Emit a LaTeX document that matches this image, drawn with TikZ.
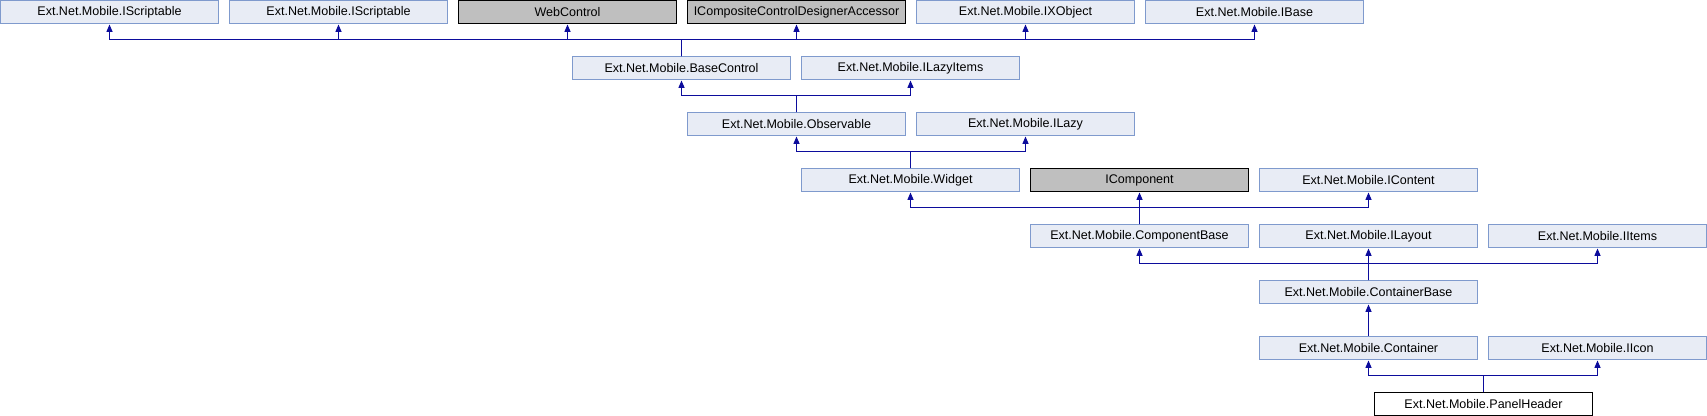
\documentclass[tikz,border=0pt]{standalone}
\usepackage{fontspec}
\setmainfont{Liberation Sans}
\usetikzlibrary{arrows.meta}
\definecolor{boxfill}{HTML}{E8ECF5}
\definecolor{boxline}{HTML}{7F9ACD}
\definecolor{extfill}{HTML}{BFBFBF}
\definecolor{edgecol}{HTML}{0C0C9C}
\tikzset{
  cls/.style={draw=boxline, fill=boxfill, line width=0.75pt, minimum width=163.5pt, minimum height=17.25pt, inner sep=0pt, anchor=north west, font=\fontsize{9.4pt}{11pt}\selectfont},
  extcls/.style={cls, draw=black, fill=extfill},
  selcls/.style={cls, draw=black, fill=white},
  inh/.style={draw=edgecol, line width=0.75pt, -{Triangle[length=5.5pt,width=4.5pt]}}
}
\begin{document}
\begin{tikzpicture}[x=0.75pt, y=-0.75pt]
\useasboundingbox (0,0) rectangle (1707,416);
% row 1
\node[cls] (s1) at (0,0.5) {Ext.Net.Mobile.IScriptable};
\node[cls] (s2) at (229,0.5) {Ext.Net.Mobile.IScriptable};
\node[extcls] (wc) at (458,0.5) {WebControl};
\node[extcls] (icc) at (687,0.5) {ICompositeControlDesignerAccessor};
\node[cls] (ixo) at (916,0.5) {Ext.Net.Mobile.IXObject};
\node[cls] (ibase) at (1145,0.5) {Ext.Net.Mobile.IBase};
% row 2
\node[cls] (bc) at (572,56.5) {Ext.Net.Mobile.BaseControl};
\node[cls] (ili) at (801,56.5) {Ext.Net.Mobile.ILazyItems};
% row 3
\node[cls] (obs) at (687,112.5) {Ext.Net.Mobile.Observable};
\node[cls] (ilz) at (916,112.5) {Ext.Net.Mobile.ILazy};
% row 4
\node[cls] (wid) at (801,168.5) {Ext.Net.Mobile.Widget};
\node[extcls] (icomp) at (1030,168.5) {IComponent};
\node[cls] (icont) at (1259,168.5) {Ext.Net.Mobile.IContent};
% row 5
\node[cls] (cb) at (1030,224.5) {Ext.Net.Mobile.ComponentBase};
\node[cls] (ilay) at (1259,224.5) {Ext.Net.Mobile.ILayout};
\node[cls] (iit) at (1488,224.5) {Ext.Net.Mobile.IItems};
% row 6
\node[cls] (ctb) at (1259,280.5) {Ext.Net.Mobile.ContainerBase};
% row 7
\node[cls] (ct) at (1259,336.5) {Ext.Net.Mobile.Container};
\node[cls] (iic) at (1488,336.5) {Ext.Net.Mobile.IIcon};
% row 8
\node[selcls] (ph) at (1374,392.5) {Ext.Net.Mobile.PanelHeader};

% bus levels
\coordinate (b1) at (0,40);
\coordinate (b2) at (0,96);
\coordinate (b3) at (0,152);
\coordinate (b4) at (0,208);
\coordinate (b5) at (0,264);
\coordinate (b7) at (0,376);

% BaseControl -> row 1
\foreach \p in {s1,s2,wc,icc,ixo,ibase}{
  \draw[inh] (bc.north) -- (bc.north |- b1) -| (\p.south);
}
% Observable -> BaseControl, ILazyItems
\foreach \p in {bc,ili}{
  \draw[inh] (obs.north) -- (obs.north |- b2) -| (\p.south);
}
% Widget -> Observable, ILazy
\foreach \p in {obs,ilz}{
  \draw[inh] (wid.north) -- (wid.north |- b3) -| (\p.south);
}
% ComponentBase -> Widget, IComponent, IContent
\draw[inh] (cb.north) -- (icomp.south);
\foreach \p in {wid,icont}{
  \draw[inh] (cb.north) -- (cb.north |- b4) -| (\p.south);
}
% ContainerBase -> ComponentBase, ILayout, IItems
\draw[inh] (ctb.north) -- (ilay.south);
\foreach \p in {cb,iit}{
  \draw[inh] (ctb.north) -- (ctb.north |- b5) -| (\p.south);
}
% Container -> ContainerBase
\draw[inh] (ct.north) -- (ctb.south);
% PanelHeader -> Container, IIcon
\foreach \p in {ct,iic}{
  \draw[inh] (ph.north) -- (ph.north |- b7) -| (\p.south);
}
\end{tikzpicture}
\end{document}
